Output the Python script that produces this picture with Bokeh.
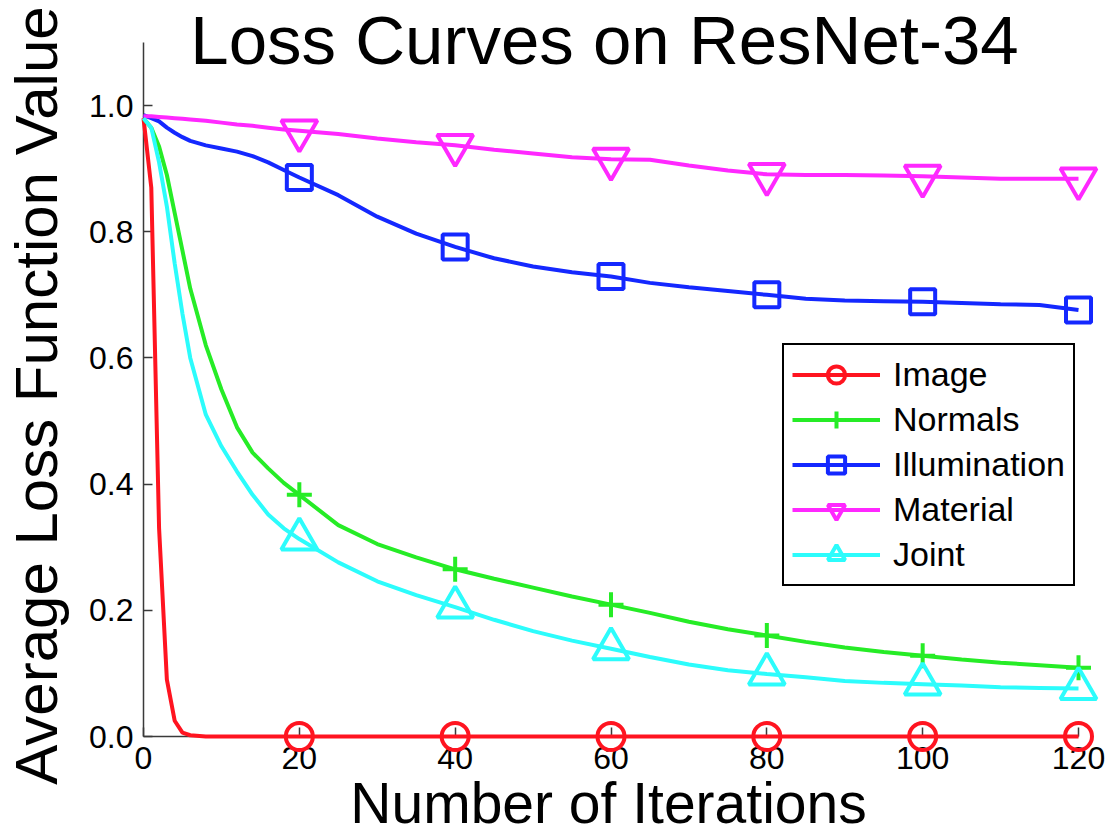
from bokeh.plotting import figure
from bokeh.models import Range1d, Legend, LegendItem, Label, FixedTicker, PrintfTickFormatter
from bokeh.embed import file_html
from bokeh.resources import INLINE

# ---------------- data ----------------
title_text = "Loss Curves on ResNet-34"
x_label_text = "Number of Iterations"
y_label_text = "Average Loss Function Value"

iterations = [0, 1, 2, 3, 4, 5, 6, 8, 10, 12, 14, 16, 18,
              20, 25, 30, 35, 40, 45, 50, 55, 60, 65, 70, 75, 80,
              85, 90, 95, 100, 105, 110, 115, 120]

image_loss = [0.980, 0.870, 0.330, 0.090, 0.025, 0.006, 0.002, 0.000, 0.000, 0.000, 0.000, 0.000, 0.000,
              0.000, 0.000, 0.000, 0.000, 0.000, 0.000, 0.000, 0.000, 0.000, 0.000, 0.000, 0.000, 0.000,
              0.000, 0.000, 0.000, 0.000, 0.000, 0.000, 0.000, 0.000]

normals_loss = [0.980, 0.965, 0.935, 0.890, 0.830, 0.770, 0.710, 0.620, 0.550, 0.490, 0.450, 0.425, 0.402,
                0.383, 0.335, 0.305, 0.284, 0.265, 0.250, 0.236, 0.222, 0.209, 0.196, 0.182, 0.170, 0.160,
                0.150, 0.141, 0.134, 0.128, 0.122, 0.117, 0.113, 0.109]

illumination_loss = [0.985, 0.980, 0.975, 0.965, 0.957, 0.950, 0.944, 0.937, 0.932, 0.927, 0.920, 0.910, 0.898,
                     0.886, 0.858, 0.824, 0.797, 0.776, 0.758, 0.745, 0.736, 0.729, 0.719, 0.712, 0.706, 0.700,
                     0.694, 0.691, 0.690, 0.689, 0.687, 0.685, 0.684, 0.676]

material_loss = [0.983, 0.983, 0.982, 0.981, 0.980, 0.979, 0.978, 0.976, 0.973, 0.970, 0.968, 0.965, 0.962,
                 0.960, 0.955, 0.948, 0.942, 0.937, 0.930, 0.924, 0.918, 0.915, 0.914, 0.905, 0.897, 0.891,
                 0.890, 0.890, 0.889, 0.888, 0.886, 0.884, 0.884, 0.884]

joint_loss = [0.980, 0.965, 0.910, 0.840, 0.750, 0.670, 0.600, 0.510, 0.460, 0.420, 0.383, 0.352, 0.330,
              0.313, 0.276, 0.246, 0.224, 0.205, 0.185, 0.167, 0.152, 0.139, 0.126, 0.114, 0.105, 0.099,
              0.094, 0.088, 0.085, 0.083, 0.081, 0.078, 0.077, 0.076]

series_names = ["Image", "Normals", "Illumination", "Material", "Joint"]
series_values = [image_loss, normals_loss, illumination_loss, material_loss, joint_loss]

marker_iterations = [20, 40, 60, 80, 100, 120]
x_ticks = [0, 20, 40, 60, 80, 100, 120]
y_ticks = [0.0, 0.2, 0.4, 0.6, 0.8, 1.0]

# ---------------- styles ----------------
styles = {
    "Image": dict(color="#ff1420", marker="circle", size=27),
    "Normals": dict(color="#26ec26", marker="cross", size=25),
    "Illumination": dict(color="#1428ff", marker="square", size=25),
    "Material": dict(color="#ff28ff", marker="inverted_triangle", size=36),
    "Joint": dict(color="#2cfcfc", marker="triangle", size=36),
}

# ---------------- layout (screen pixels) ----------------
W, H = 1110, 836
X0_PX, X120_PX = 143.0, 1078.0      # where x=0 and x=120 sit
Y0_PX, YTOP_PX = 736.0, 42.0        # where y=0 and y=1.1 sit
ppx = (X120_PX - X0_PX) / 120.0
ppy = (Y0_PX - YTOP_PX) / 1.1

x_start = -X0_PX / ppx
x_end = 120.0 + (W - X120_PX) / ppx
y_start = -(H - Y0_PX) / ppy
y_end = 1.1 + YTOP_PX / ppy


def dx(px):
    return (px - X0_PX) / ppx


def dy(py):
    return (Y0_PX - py) / ppy


MID = 0.3465  # distance from baseline to the middle of the text box, in em

FONT = "Liberation Sans"

p = figure(width=W, height=H, output_backend="svg", toolbar_location=None,
           x_range=Range1d(x_start, x_end), y_range=Range1d(y_start, y_end),
           min_border_left=0, min_border_right=0, min_border_top=0, min_border_bottom=0)

p.title.visible = False
p.background_fill_color = "white"
p.border_fill_color = "white"
p.outline_line_color = None
p.xgrid.visible = False
p.ygrid.visible = False

p.xaxis.ticker = FixedTicker(ticks=x_ticks)
p.yaxis.ticker = FixedTicker(ticks=y_ticks)
p.yaxis.formatter = PrintfTickFormatter(format="%.1f")
p.xaxis.fixed_location = 0
p.yaxis.fixed_location = 0
p.xaxis.bounds = (0, 120)
p.yaxis.bounds = (0, 1.1)
p.axis.minor_tick_line_color = None
p.axis.major_tick_in = 9
p.axis.major_tick_out = 0
p.axis.axis_line_color = "#3a3a3a"
p.axis.axis_line_width = 1.5
p.axis.major_tick_line_color = "#3a3a3a"
p.axis.major_tick_line_width = 1.5
p.axis.major_label_text_font = FONT
p.axis.major_label_text_font_size = "32px"
p.axis.major_label_text_color = "black"
p.yaxis.major_label_standoff = 10
p.xaxis.major_label_standoff = 10

items = []
for name, vals in zip(series_names, series_values):
    st = styles[name]
    lr = p.line(iterations, vals, line_color=st["color"], line_width=4, level="overlay")
    my = [vals[iterations.index(x)] for x in marker_iterations]
    mr = p.scatter(marker_iterations, my, marker=st["marker"], size=st["size"],
                   line_color=st["color"], line_width=4, fill_color=None, level="overlay")
    items.append(LegendItem(label=name, renderers=[lr, mr]))

LEG_LEFT, LEG_BOTTOM = 782, 586
legend = Legend(items=items, location=(LEG_LEFT, H - LEG_BOTTOM), orientation="vertical",
                label_text_font=FONT, label_text_font_size="34px", label_text_color="black",
                glyph_width=88, glyph_height=43, label_height=43, spacing=2,
                padding=8, margin=0, label_standoff=13,
                border_line_color="black", border_line_width=2, border_line_alpha=1.0,
                background_fill_color="white", background_fill_alpha=1.0)
p.add_layout(legend)

TITLE_FS, XL_FS, YL_FS = 69, 57, 60
p.add_layout(Label(x=dx(604), y=dy(64 - MID * TITLE_FS), text=title_text, text_align="center",
                   text_baseline="middle", text_font=FONT,
                   text_font_size=f"{TITLE_FS}px", text_color="black"))
p.add_layout(Label(x=dx(608), y=dy(822 - MID * XL_FS), text=x_label_text, text_align="center",
                   text_baseline="middle", text_font=FONT,
                   text_font_size=f"{XL_FS}px", text_color="black"))
p.add_layout(Label(x=dx(57 - MID * YL_FS), y=dy(395), text=y_label_text, text_align="center",
                   text_baseline="middle", angle=90, angle_units="deg",
                   text_font=FONT, text_font_size=f"{YL_FS}px", text_color="black"))

open("out.html", "w").write(file_html(p, INLINE))
